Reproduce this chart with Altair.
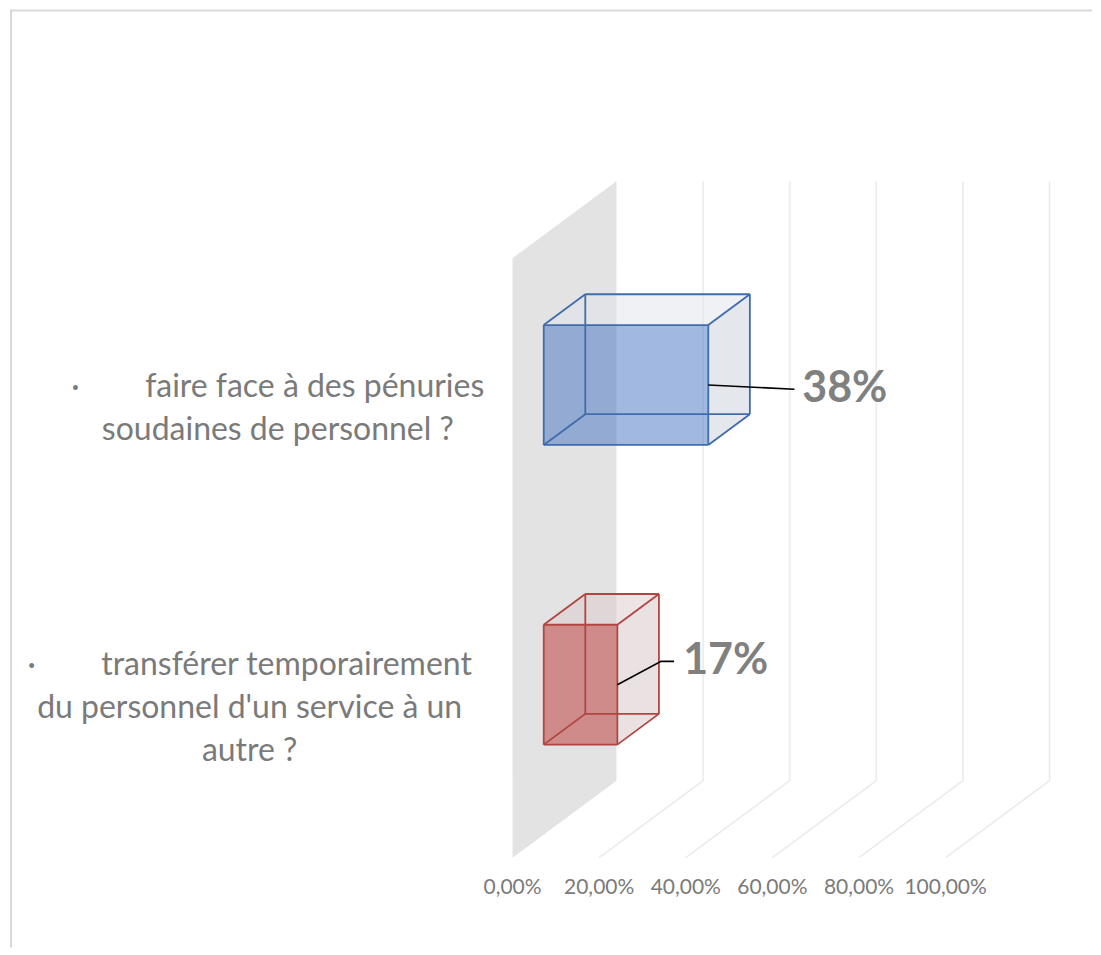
import itertools
import altair as alt
import pandas as pd

# ---------------- data ----------------
NB = "\u00a0" * 8
categories = [
    ["·" + NB + "transférer temporairement", "du personnel d'un service à un", "autre ?"],
    ["·" + NB + "faire face à des pénuries", "soudaines de personnel ?"],
]
values = [17, 38]
value_labels = ["17%", "38%"]
tick_values = [0, 20, 40, 60, 80, 100]
tick_labels = ["0,00%", "20,00%", "40,00%", "60,00%", "80,00%", "100,00%"]

# ---------------- style ----------------
front_fill = ["#c0504d", "#4472c4"]
front_opacity = [0.6, 0.5]
edge_color = ["#b04541", "#3f6cab"]
top_fill = ["#dccccc", "#dfe3ea"]
side_fill = ["#d3c4c5", "#c9cfd9"]
label_x = [-60.7, -54.2]            # centre of category label block (x units)
label_offset = [(15.2, 0.08), (21.7, -0.014)]   # value label offset from anchor
leader_pts = [[(0, 0), (10.1, 0.078), (13.1, 0.078)], [(0, 0), (19.9, -0.014)]]
LINE_H = 43                         # px between label lines

DX, DY = 24.0, 0.2567       # projection of the full depth
D0, D1 = 0.3, 0.7           # bar depth range
HALF = 0.2                  # half bar height (category units)
XDOM = [-116.5, 133.8]
YDOM = [-0.3, 2.83]
W, H = 1085, 939
PX_PER_Y = H / (YDOM[1] - YDOM[0])
FONT = "Lato"
GRAY = "#7a7a7a"

xs = alt.Scale(domain=XDOM, nice=False, zero=False)
ys = alt.Scale(domain=YDOM, nice=False, zero=False)


def X(f="x"):
    return alt.X(f"{f}:Q", scale=xs, axis=None)


def Y(f="y"):
    return alt.Y(f"{f}:Q", scale=ys, axis=None)


ncat = len(categories)
centers = [i + 0.5 for i in range(ncat)]

# wall at 0
wall = pd.DataFrame({"x": [0, DX], "y": [0, DY], "y2": [ncat, ncat + DY]})
wall_l = alt.Chart(wall).mark_area(color="#e3e3e3", orient="vertical").encode(
    x=X(), y=Y(), y2="y2:Q")

# gridlines
grid = []
for v in tick_values[1:]:
    grid.append({"x": v, "y": 0, "x2": v + DX, "y2": DY})
    grid.append({"x": v + DX, "y": DY, "x2": v + DX, "y2": ncat + DY})
grid_l = alt.Chart(pd.DataFrame(grid)).mark_rule(color="#ebebeb", strokeWidth=1.6).encode(
    x=X(), y=Y(), x2="x2:Q", y2="y2:Q")

# tick labels
ticks = pd.DataFrame({"x": tick_values, "y": [-0.1] * len(tick_values), "t": tick_labels})
tick_l = alt.Chart(ticks).mark_text(font=FONT, fontSize=21, color=GRAY, baseline="middle").encode(
    x=X(), y=Y(), text="t:N")

# bars
fronts, tops, sides, edges = [], [], [], []
for i, (v, c) in enumerate(zip(values, centers)):
    fronts.append({"x": D0 * DX, "x2": v + D0 * DX, "y": c - HALF + D0 * DY,
                   "y2": c + HALF + D0 * DY, "col": front_fill[i], "op": front_opacity[i], "id": i})
    for d in (D0, D1):
        tops.append({"y": c + HALF + d * DY, "x": d * DX, "x2": v + d * DX, "col": top_fill[i], "id": i})
        sides.append({"x": v + d * DX, "y": c - HALF + d * DY, "y2": c + HALF + d * DY,
                      "col": side_fill[i], "id": i})
    verts = list(itertools.product((D0, D1), (0, v), (-HALF, HALF)))
    for a, b in itertools.combinations(verts, 2):
        if sum(p != q for p, q in zip(a, b)) == 1:
            edges.append({"x": a[1] + a[0] * DX, "y": c + a[2] + a[0] * DY,
                          "x2": b[1] + b[0] * DX, "y2": c + b[2] + b[0] * DY, "col": edge_color[i]})

top_l = alt.Chart(pd.DataFrame(tops)).mark_area(orient="horizontal", opacity=0.5).encode(
    y=Y(), x=X(), x2="x2:Q", color=alt.Color("col:N", scale=None), detail="id:N")
side_l = alt.Chart(pd.DataFrame(sides)).mark_area(orient="vertical", opacity=0.5).encode(
    x=X(), y=Y(), y2="y2:Q", color=alt.Color("col:N", scale=None), detail="id:N")
front_l = alt.Chart(pd.DataFrame(fronts)).mark_rect().encode(
    x=X(), x2="x2:Q", y=Y(), y2="y2:Q", color=alt.Color("col:N", scale=None),
    opacity=alt.Opacity("op:Q", scale=None))
edge_l = alt.Chart(pd.DataFrame(edges)).mark_rule(strokeWidth=1.8).encode(
    x=X(), y=Y(), x2="x2:Q", y2="y2:Q", color=alt.Color("col:N", scale=None))

# leader lines & value labels
leaders, vlabels = [], []
for i, (v, c) in enumerate(zip(values, centers)):
    ax, ay = v + D0 * DX, c + D0 * DY
    for k, (px, py) in enumerate(leader_pts[i]):
        leaders.append({"x": ax + px, "y": ay + py, "id": i, "o": k})
    vlabels.append({"x": ax + label_offset[i][0], "y": ay + label_offset[i][1], "t": value_labels[i]})
leader_l = alt.Chart(pd.DataFrame(leaders)).mark_line(color="#000000", strokeWidth=1.6).encode(
    x=X(), y=Y(), detail="id:N", order="o:Q")
vlab_l = alt.Chart(pd.DataFrame(vlabels)).mark_text(
    font=FONT, fontSize=43, fontWeight="bold", color="#808080", align="left", baseline="middle"
).encode(x=X(), y=Y(), text="t:N")

# category labels, one text per line, block centred on the band
cat_rows = []
for i, lines in enumerate(categories):
    n = len(lines)
    for k, line in enumerate(lines):
        cat_rows.append({"x": label_x[i],
                         "y": centers[i] + ((n - 1) / 2 - k) * LINE_H / PX_PER_Y,
                         "t": line})
cat_l = alt.Chart(pd.DataFrame(cat_rows)).mark_text(
    font=FONT, fontSize=32, color=GRAY, align="center", baseline="middle"
).encode(x=X(), y=Y(), text="t:N")

# chart border (top & left visible)
border = pd.DataFrame({"a": [0]})
bl = alt.Chart(border).mark_rule(color="#d9d9d9", strokeWidth=2).encode(
    x=alt.value(3), y=alt.value(0), y2=alt.value(H))
bt = alt.Chart(border).mark_rule(color="#d9d9d9", strokeWidth=2).encode(
    y=alt.value(1), x=alt.value(3), x2=alt.value(W))

chart = alt.layer(
    wall_l, grid_l, tick_l, top_l, side_l, front_l, edge_l, leader_l, vlab_l, cat_l, bl, bt
).properties(width=W, height=H, padding=0).configure_view(stroke=None)

chart.save("out.html", embed_options={"renderer": "svg", "actions": False})
